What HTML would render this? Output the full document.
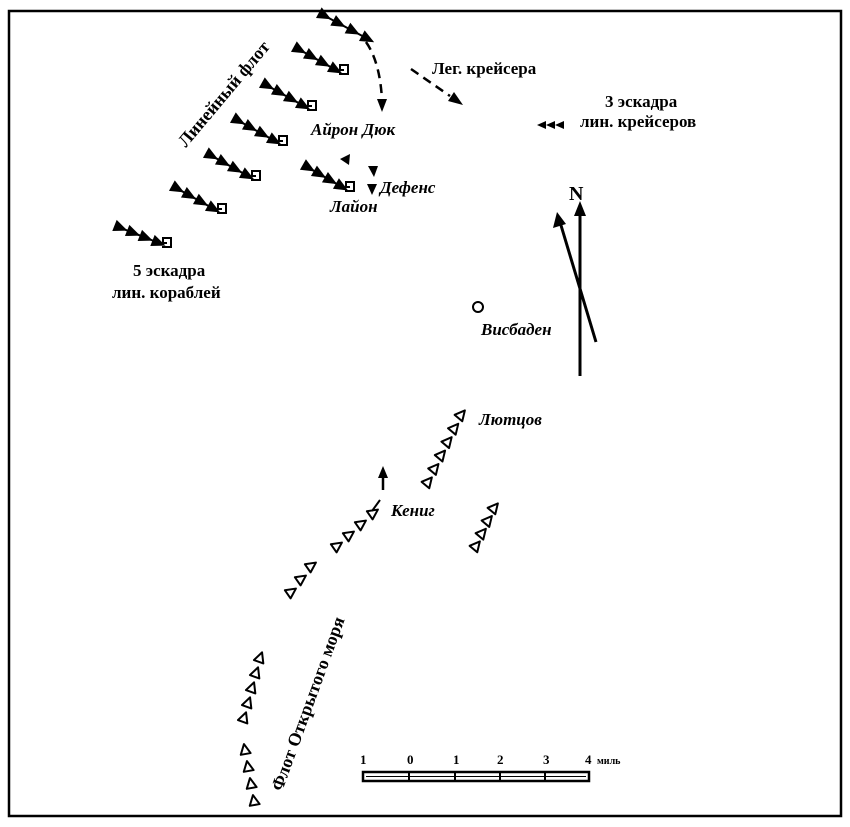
<!DOCTYPE html>
<html><head><meta charset="utf-8"><style>
html,body{margin:0;padding:0;background:#fff;}
svg{display:block;}
text{font-family:"Liberation Serif","DejaVu Serif",serif;fill:#000;}
.b{font-weight:bold;font-size:17px;}
.i{font-style:italic;font-weight:bold;font-size:17px;}
</style></head><body>
<svg id="s" width="850" height="827" viewBox="0 0 850 827" xmlns="http://www.w3.org/2000/svg">
<rect x="9" y="11" width="832" height="805" fill="none" stroke="#000" stroke-width="2.5"/>
<g id="g"></g>
<path d="M366,42 Q380,62 382,100" fill="none" stroke="#000" stroke-width="2.5" stroke-dasharray="9,6"/>
<polygon points="377,99 387,99 382,112" fill="#000"/>
<path d="M411,69 L450,96" fill="none" stroke="#000" stroke-width="2.5" stroke-dasharray="9,6"/>
<polygon points="448,101 454,92 463,105" fill="#000"/>
<polygon points="537,125 546,121 546,129" fill="#000"/>
<polygon points="546,125 555,121 555,129" fill="#000"/>
<polygon points="555,125 564,121 564,129" fill="#000"/>
<polygon points="340,159 350,154 349,165" fill="#000"/>
<polygon points="368,166 378,166 374,177" fill="#000"/>
<polygon points="367,184 377,184 372,195" fill="#000"/>
<line x1="580" y1="376" x2="580" y2="210" stroke="#000" stroke-width="3"/>
<polygon points="574,216 580,201 586,216" fill="#000"/>
<line x1="596" y1="342" x2="560" y2="222" stroke="#000" stroke-width="3"/>
<polygon points="553,228 557,212 566,224" fill="#000"/>
<text x="569" y="200" class="b" style="font-size:20px">N</text>
<circle cx="478" cy="307" r="5" fill="none" stroke="#000" stroke-width="2"/>
<line x1="383" y1="490" x2="383" y2="476" stroke="#000" stroke-width="2.5"/>
<polygon points="378,478 383,466 388,478" fill="#000"/>
<line x1="372" y1="511" x2="380" y2="500" stroke="#000" stroke-width="2"/>
<text class="b" x="432" y="74">Лег. крейсера</text>
<text class="b" x="605" y="107">3 эскадра</text>
<text class="b" x="580" y="127">лин. крейсеров</text>
<text class="i" x="311" y="135">Айрон Дюк</text>
<text class="i" x="380" y="193">Дефенс</text>
<text class="i" x="330" y="212">Лайон</text>
<text class="b" x="133" y="276">5 эскадра</text>
<text class="b" x="112" y="298">лин. кораблей</text>
<text class="i" x="481" y="335">Висбаден</text>
<text class="i" x="479" y="425">Лютцов</text>
<text class="i" x="391" y="516">Кениг</text>
<text class="b" style="font-size:18px" transform="translate(186,148) rotate(-50)">Линейный флот</text>
<text class="b" style="font-size:18px" transform="translate(282,792) rotate(-70)">Флот Открытого моря</text>
<rect x="363" y="772" width="226" height="9" fill="#fff" stroke="#000" stroke-width="2.5"/>
<line x1="366" y1="776.5" x2="586" y2="776.5" stroke="#000" stroke-width="1"/>
<line x1="409" y1="772" x2="409" y2="781" stroke="#000" stroke-width="2"/>
<line x1="455" y1="772" x2="455" y2="781" stroke="#000" stroke-width="2"/>
<line x1="500" y1="772" x2="500" y2="781" stroke="#000" stroke-width="2"/>
<line x1="545" y1="772" x2="545" y2="781" stroke="#000" stroke-width="2"/>
<g style="font-size:13px;font-weight:bold">
<text x="360" y="764">1</text><text x="407" y="764">0</text><text x="453" y="764">1</text>
<text x="497" y="764">2</text><text x="543" y="764">3</text><text x="585" y="764">4</text>
<text x="597" y="764" style="font-size:10px">миль</text></g>
</svg>
<script>
var g=document.getElementById('g'),NS='http://www.w3.org/2000/svg';
function el(t,a){var e=document.createElementNS(NS,t);for(var k in a)e.setAttribute(k,a[k]);g.appendChild(e);return e;}
function col(x1,y1,x2,y2,n,hook){
 var dx=x2-x1,dy=y2-y1,ang=Math.atan2(dy,dx)*180/Math.PI;
 el('line',{x1:x1,y1:y1,x2:x2,y2:y2,stroke:'#000','stroke-width':2});
 for(var i=0;i<n;i++){var t=n==1?0:i/(n-1),x=x1+dx*t,y=y1+dy*t;
  el('polygon',{points:'-7,-6 7,0 -7,6',fill:'#000',transform:'translate('+x+','+y+') rotate('+ang+')'});}
 if(hook){el('path',{d:'M'+(x2+3)+','+(y2+4)+' l9,0 l0,-9 l-8,0 l0,5 l4,0',fill:'none',stroke:'#000','stroke-width':2});}
}
col(325,16,368,39,4,false);
col(300,50,336,70,4,true);
col(268,86,304,106,4,true);
col(239,121,275,141,4,true);
col(212,156,248,176,4,true);
col(178,189,214,209,4,true);
col(121,228,159,243,4,true);
col(309,168,342,187,4,true);
function tri(x,y,ang){el('polygon',{points:'0,-6 5,4 -5,4',fill:'#fff',stroke:'#000','stroke-width':2,'stroke-linejoin':'round',transform:'translate('+x+','+y+') rotate('+ang+')'});}
function gcol(x1,y1,x2,y2,n,ang){for(var i=0;i<n;i++){var t=i/(n-1);tri(x1+(x2-x1)*t,y1+(y2-y1)*t,ang);}}
gcol(461,415,428,482,6,40);
gcol(494,508,476,546,4,40);
gcol(373,513,337,546,4,55);
gcol(311,566,291,592,3,55);
gcol(260,658,244,718,5,20);
gcol(245,750,254,801,4,-10);
</script>
</body></html>
